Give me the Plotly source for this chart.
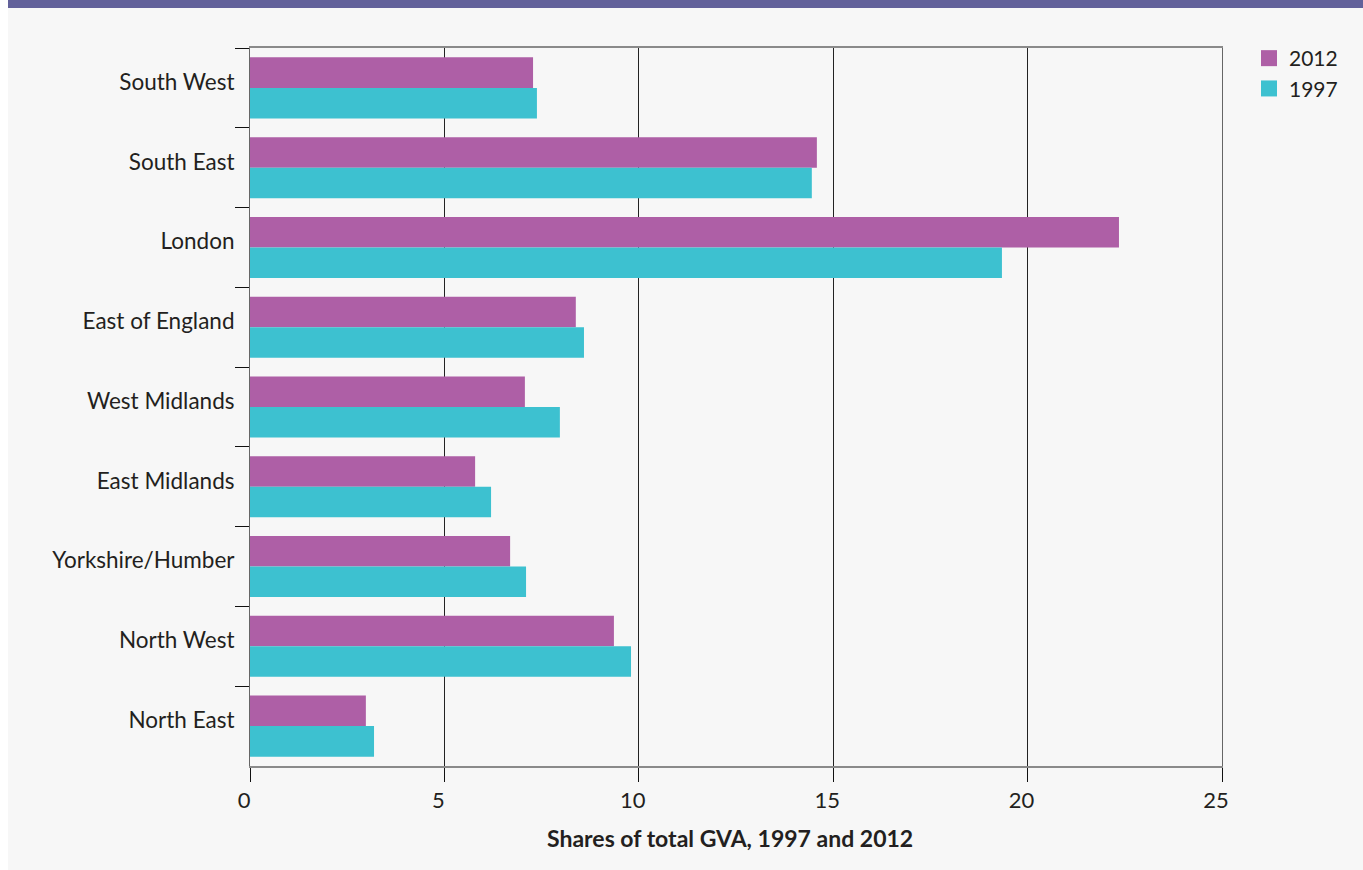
import plotly.graph_objects as go

regions = ["South West", "South East", "London", "East of England", "West Midlands",
           "East Midlands", "Yorkshire/Humber", "North West", "North East"]
share_2012 = [7.28, 14.58, 22.35, 8.38, 7.07, 5.79, 6.69, 9.36, 2.98]
share_1997 = [7.38, 14.45, 19.34, 8.59, 7.97, 6.20, 7.10, 9.80, 3.19]
x_ticks = [0, 5, 10, 15, 20, 25]
x_title = "Shares of total GVA, 1997 and 2012"

C2012 = "#AE5FA6"
C1997 = "#3DC1D0"
FONT = "Lato"

fig = go.Figure()
fig.add_trace(go.Bar(y=regions, x=share_2012, orientation="h", name="2012",
                     marker=dict(color=C2012, line=dict(width=0)), showlegend=False))
fig.add_trace(go.Bar(y=regions, x=share_1997, orientation="h", name="1997",
                     marker=dict(color=C1997, line=dict(width=0)), showlegend=False))
# legend entries (square swatches)
for nm, col in [("2012", C2012), ("1997", C1997)]:
    fig.add_trace(go.Scatter(x=[None], y=[None], mode="markers", name=nm,
                             marker=dict(symbol="square", size=18, color=col)))

L, R, T, B = 250, 141, 48, 104
W, H = 1363, 870
pw, ph = W - L - R, H - T - B

def px_x(p):
    return (p - L) / pw

def px_y(p):
    return (H - B - p) / ph

fig.update_layout(
    width=W, height=H,
    margin=dict(l=L, r=R, t=T, b=B, pad=0),
    paper_bgcolor="#f7f7f7", plot_bgcolor="rgba(0,0,0,0)",
    barmode="group", bargap=0.235, bargroupgap=0,
    font=dict(family=FONT, size=20, color="#231f20"),
    showlegend=True,
    legend=dict(x=px_x(1249), y=px_y(38), xanchor="left", yanchor="top",
                bgcolor="rgba(0,0,0,0)", font=dict(size=21), tracegroupgap=0,
                itemsizing="trace"),
    xaxis=dict(range=[0, 25], tickvals=x_ticks, ticks="outside", ticklen=14,
               tickcolor="#111", tickwidth=1, ticklabelshift=-6,
               showgrid=True, gridcolor="#222", gridwidth=1, zeroline=False,
               showline=True, linecolor="#8a8a8a", linewidth=2, mirror=True,
               tickfont=dict(size=22)),
    yaxis=dict(categoryorder="array", categoryarray=regions, autorange="reversed",
               tickson="boundaries", ticks="outside", ticklen=14, tickcolor="#111",
               tickwidth=1, showgrid=False, showline=True, linecolor="#666",
               linewidth=1, mirror=True, ticklabelstandoff=10, ticklabelshift=6,
               tickfont=dict(size=22.5)),
    annotations=[
        dict(text="<b>" + x_title + "</b>", xref="paper", yref="paper",
             x=px_x(730), y=px_y(838), xanchor="center", yanchor="middle",
             showarrow=False, font=dict(size=23)),
    ],
    shapes=[
        dict(type="rect", xref="paper", yref="paper", x0=px_x(0), x1=px_x(8),
             y0=px_y(H), y1=px_y(0), fillcolor="#ffffff", line=dict(width=0), layer="below"),
        dict(type="rect", xref="paper", yref="paper", x0=px_x(8), x1=px_x(W),
             y0=px_y(8), y1=px_y(0), fillcolor="#62619A", line=dict(width=0), layer="above"),
    ],
)

fig.write_html("out.html")
